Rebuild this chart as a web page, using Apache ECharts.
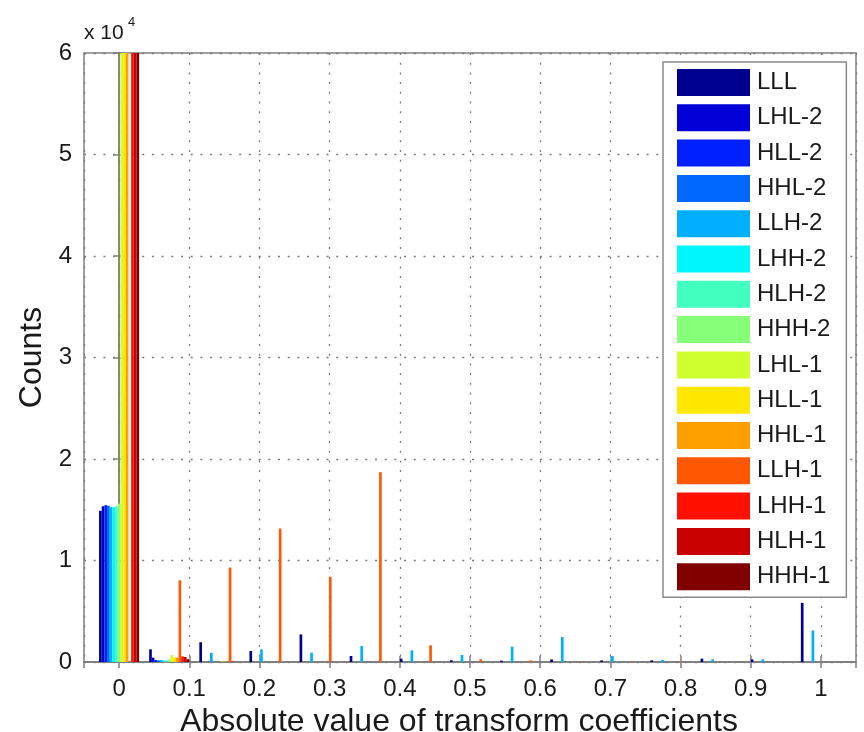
<!DOCTYPE html>
<html><head><meta charset="utf-8">
<script src="https://cdn.jsdelivr.net/npm/echarts@6/dist/echarts.min.js"></script>
<style>html,body{margin:0;padding:0;background:#fff}#c{width:864px;height:732px}</style>
</head><body><div id="c"></div>
<script>
// ---- data ----
const seriesNames = ['LLL','LHL-2','HLL-2','HHL-2','LLH-2','LHH-2','HLH-2','HHH-2','LHL-1','HLL-1','HHL-1','LLH-1','LHH-1','HLH-1','HHH-1'];
const seriesColors = ['#00008f','#0000d7','#0020ff','#0068ff','#00afff','#00f7ff','#40ffbf','#88ff78','#d0ff30','#ffe700','#ff9f00','#ff5800','#ff1000','#c80000','#800000'];
const binCenters = [0, 0.0714, 0.1429, 0.2143, 0.2857, 0.3571, 0.4286, 0.5, 0.5714, 0.6429, 0.7143, 0.7857, 0.8571, 0.9286, 1];
const LLL   = [14900, 1250, 1950, 1080, 2720, 590, 330, 170, 130, 260, 160, 160, 330, 260, 5830];
const LHL_2 = [15350, 430, 0, 0, 0, 0, 0, 0, 0, 0, 0, 0, 0, 0, 0];
const HLL_2 = [15450, 200, 0, 0, 0, 0, 0, 0, 0, 0, 0, 0, 0, 0, 0];
const HHL_2 = [15400, 170, 0, 0, 0, 0, 0, 0, 0, 0, 0, 0, 0, 0, 0];
const LLH_2 = [15250, 190, 900, 1250, 920, 1570, 1150, 690, 1510, 2460, 590, 200, 260, 260, 3110];
const LHH_2 = [15250, 170, 0, 0, 0, 0, 0, 0, 0, 0, 0, 0, 0, 0, 0];
const HLH_2 = [15350, 120, 0, 0, 0, 0, 0, 0, 0, 0, 0, 0, 0, 0, 0];
const HHH_2 = [15600, 250, 0, 0, 0, 0, 0, 0, 0, 0, 0, 0, 0, 0, 0];
const LHL_1 = [72000, 690, 60, 0, 0, 0, 0, 0, 0, 0, 0, 0, 0, 0, 0];
const HLL_1 = [88000, 450, 40, 0, 0, 0, 0, 0, 0, 0, 0, 0, 0, 0, 0];
const HHL_1 = [95000, 450, 0, 0, 0, 0, 0, 0, 0, 0, 0, 0, 0, 0, 0];
const LLH_1 = [0, 8050, 9300, 13150, 8390, 18700, 1640, 260, 160, 60, 50, 40, 0, 0, 0];
const LHH_1 = [110000, 550, 50, 0, 0, 0, 0, 0, 0, 0, 0, 0, 0, 0, 0];
const HLH_1 = [104000, 500, 0, 0, 0, 0, 0, 0, 0, 0, 0, 0, 0, 0, 0];
const HHH_1 = [118000, 280, 0, 0, 0, 0, 0, 0, 0, 0, 0, 0, 0, 0, 0];
const seriesValues = [LLL, LHL_2, HLL_2, HHL_2, LLH_2, LHH_2, HLH_2, HHH_2, LHL_1, HLL_1, HHL_1, LLH_1, LHH_1, HLH_1, HHH_1];
const xTitle = 'Absolute value of transform coefficients';
const yTitle = 'Counts';

// ---- chart ----
const FONT = '"Liberation Sans", Arial, Helvetica, sans-serif';
const nSeries = seriesNames.length;
const groupWidth = 0.8 * (binCenters[1] - binCenters[0]);
const frameColor = '#808080';
const gridLine = { show: true, lineStyle: { color: '#7a7a7a', width: 1.3, type: [2, 7.7] } };

function makeRender(si) {
  return function (params, api) {
    const x = api.value(0), v = api.value(1);
    const p0 = api.coord([x, 0]);
    const p1 = api.coord([x, v]);
    const gw = api.size([groupWidth, 0])[0];
    const bw = gw / nSeries;
    const left = p0[0] - gw / 2 + si * bw;
    const cs = params.coordSys;
    const rect = echarts.graphic.clipRectByRect(
      { x: left, y: p1[1], width: bw, height: p0[1] - p1[1] },
      { x: cs.x, y: cs.y, width: cs.width, height: cs.height });
    if (!rect || rect.height <= 0) return;
    return { type: 'rect', shape: rect, style: { fill: api.visual('color') } };
  };
}

const series = seriesNames.map((name, si) => ({
  type: 'custom',
  name: name,
  xAxisIndex: 0, yAxisIndex: 0,
  z: 3,
  itemStyle: { color: seriesColors[si] },
  renderItem: makeRender(si),
  encode: { x: 0, y: 1 },
  data: binCenters.map((x, k) => [x, seriesValues[si][k]])
}));

function xLabel(v) {
  if (v < -0.001 || v > 1.001) return '';
  const r = Math.round(v * 10) / 10;
  if (Math.abs(r) < 1e-9) return '0';
  if (Math.abs(r - 1) < 1e-9) return '1';
  return r.toFixed(1);
}

const xCommon = { type: 'value', min: -0.05, max: 1.05, splitNumber: 11, minInterval: 0.1, maxInterval: 0.1 };
const yCommon = { type: 'value', min: 0, max: 60000, interval: 10000 };

const option = {
  animation: false,
  backgroundColor: '#ffffff',
  textStyle: { fontFamily: FONT },
  grid: { left: 84, right: 8, top: 53, bottom: 70, containLabel: false, outerBoundsMode: 'none', show: true, borderColor: frameColor, borderWidth: 1.5, backgroundColor: 'transparent' },
  xAxis: [
    Object.assign({}, xCommon, {
      position: 'bottom',
      name: xTitle, nameLocation: 'middle', nameGap: 40,
      nameTextStyle: { fontSize: 32, color: '#1a1a1a', fontFamily: FONT, padding: [0, 22, 0, 0] },
      axisLine: { show: true, lineStyle: { color: frameColor, width: 2 } },
      axisTick: { show: true, inside: true, length: 6, lineStyle: { color: frameColor, width: 1.5 } },
      axisLabel: { show: true, fontSize: 24, color: '#1a1a1a', margin: 15, fontFamily: FONT, formatter: xLabel, showMinLabel: false, showMaxLabel: false },
      splitLine: gridLine
    }),
    Object.assign({}, xCommon, {
      position: 'top',
      axisLine: { show: true, lineStyle: { color: frameColor, width: 1.5 } },
      axisTick: { show: true, inside: true, length: 6, lineStyle: { color: frameColor, width: 1.5 } },
      axisLabel: { show: false },
      splitLine: { show: false }
    })
  ],
  yAxis: [
    Object.assign({}, yCommon, {
      position: 'left',
      name: yTitle, nameLocation: 'middle', nameGap: 29, nameRotate: 90,
      nameTextStyle: { fontSize: 32, color: '#1a1a1a', fontFamily: FONT },
      axisLine: { show: true, lineStyle: { color: frameColor, width: 1.5 } },
      axisTick: { show: true, inside: true, length: 6, lineStyle: { color: frameColor, width: 1.5 } },
      axisLabel: { show: true, fontSize: 24, color: '#1a1a1a', margin: 12, fontFamily: FONT, formatter: v => String(Math.round(v / 10000)) },
      splitLine: gridLine
    }),
    Object.assign({}, yCommon, {
      position: 'right',
      axisLine: { show: true, lineStyle: { color: frameColor, width: 1.5 } },
      axisTick: { show: true, inside: true, length: 6, lineStyle: { color: frameColor, width: 1.5 } },
      axisLabel: { show: false },
      splitLine: { show: false }
    })
  ],
  legend: {
    data: seriesNames,
    orient: 'vertical',
    left: 663, top: 62,
    icon: 'rect',
    itemWidth: 73, itemHeight: 27, itemGap: 8.3,
    padding: [7, 16, 7, 14],
    backgroundColor: '#ffffff',
    borderColor: '#8a8a8a', borderWidth: 1.5,
    textStyle: { fontSize: 24, color: '#1a1a1a', fontFamily: FONT, padding: [0, 0, 0, 2] },
    selectedMode: false,
    z: 10
  },
  graphic: [
    { type: 'text', left: 84, top: 23, style: { text: 'x 10', font: '21px ' + FONT, fill: '#1a1a1a' } },
    { type: 'text', left: 128, top: 16, style: { text: '4', font: '13px ' + FONT, fill: '#1a1a1a' } }
  ],
  series: series
};

const chart = echarts.init(document.getElementById('c'), null, { renderer: 'canvas' });
chart.setOption(option);
</script>
</body></html>
